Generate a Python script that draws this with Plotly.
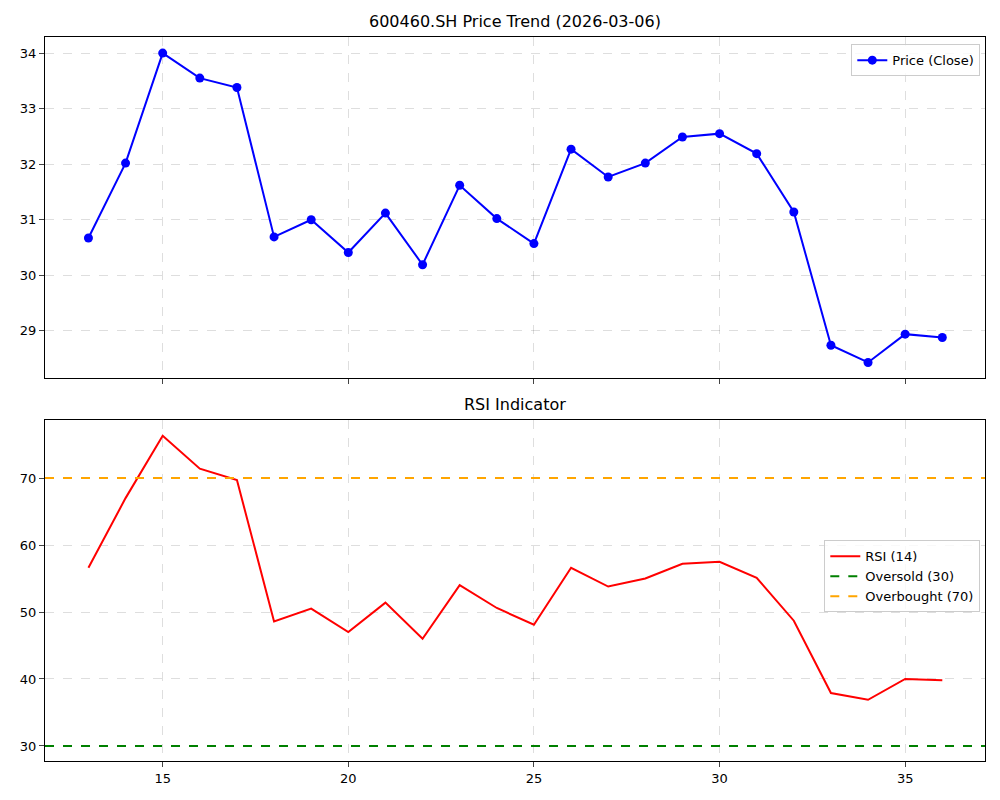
import plotly.graph_objects as go
from plotly.subplots import make_subplots

days = list(range(13, 37))
price = [30.67, 32.02, 34.0, 33.55, 33.38, 30.69, 31.0, 30.41, 31.12, 30.19, 31.62, 31.02,
         30.57, 32.27, 31.77, 32.02, 32.49, 32.55, 32.19, 31.14, 28.74, 28.43, 28.94, 28.88]
rsi = [56.6, 67.0, 76.3, 71.4, 69.7, 48.6, 50.5, 47.0, 51.4, 46.0, 54.0, 50.6,
       48.1, 56.6, 53.8, 55.0, 57.2, 57.5, 55.1, 48.7, 37.9, 36.9, 40.0, 39.8]
oversold = 30
overbought = 70

fig = make_subplots(rows=2, cols=1, shared_xaxes=True, vertical_spacing=0.058)
fig.add_trace(go.Scatter(x=days, y=price, mode="lines+markers", name="Price (Close)",
                         line=dict(color="blue", width=2), marker=dict(size=9, color="blue"),
                         legend="legend", showlegend=True), row=1, col=1)
fig.add_trace(go.Scatter(x=days, y=rsi, mode="lines", name="RSI (14)",
                         line=dict(color="red", width=2), legend="legend2", showlegend=True), row=2, col=1)
xr = [11.83, 37.15]
fig.add_trace(go.Scatter(x=xr, y=[oversold]*2, mode="lines", name="Oversold (30)",
                         line=dict(color="green", width=2, dash="dash"), legend="legend2", showlegend=True), row=2, col=1)
fig.add_trace(go.Scatter(x=xr, y=[overbought]*2, mode="lines", name="Overbought (70)",
                         line=dict(color="orange", width=2, dash="dash"), legend="legend2", showlegend=True), row=2, col=1)

ax = dict(showline=True, linecolor="black", mirror=True, ticks="outside", showgrid=True,
          gridcolor="rgba(0,0,0,0.13)", griddash="dash", zeroline=False,
          tickfont=dict(size=13, color="black"))
fig.update_xaxes(**ax, range=xr, tickvals=[15, 20, 25, 30, 35])
fig.update_xaxes(showticklabels=False, row=1, col=1)
fig.update_yaxes(**ax)
fig.update_yaxes(range=[28.15, 34.29], dtick=1, row=1, col=1)
fig.update_yaxes(range=[27.76, 78.66], tickvals=[30, 40, 50, 60, 70], row=2, col=1)
fig.update_layout(
    width=1000, height=800, plot_bgcolor="white", paper_bgcolor="white",
    margin=dict(l=34, r=23, t=29, b=47),
    font=dict(family="DejaVu Sans", color="black"),
    yaxis=dict(domain=[0.529, 1]), yaxis2=dict(domain=[0, 0.471]),
    legend=dict(x=0.995, y=0.99, xanchor="right", yanchor="top", bordercolor="#ccc",
                borderwidth=1, bgcolor="rgba(255,255,255,0.8)", font=dict(size=13)),
    legend2=dict(x=0.995, y=0.255, xanchor="right", yanchor="middle", bordercolor="#ccc",
                 borderwidth=1, bgcolor="rgba(255,255,255,0.8)", font=dict(size=13)),
    annotations=[
        dict(text="600460.SH Price Trend (2026-03-06)", x=0.5, y=1, xref="paper", yref="paper",
             yanchor="bottom", yshift=4, showarrow=False, font=dict(size=16)),
        dict(text="RSI Indicator", x=0.5, y=0.471, xref="paper", yref="paper",
             yanchor="bottom", yshift=4, showarrow=False, font=dict(size=16)),
    ],
)
fig.write_html("out.html")
